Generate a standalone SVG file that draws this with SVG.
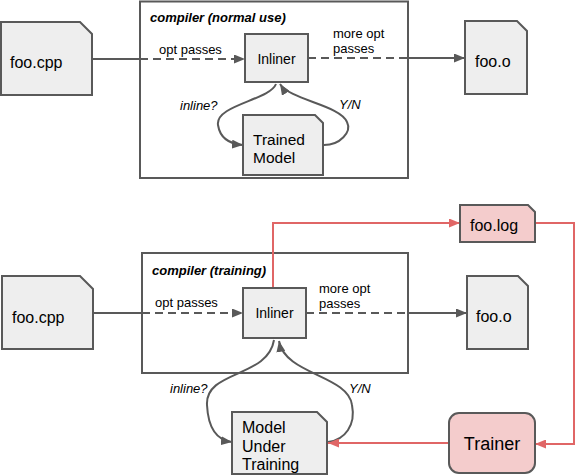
<svg xmlns="http://www.w3.org/2000/svg" width="576" height="476" viewBox="0 0 576 476">
<style>
text{font-family:"Liberation Sans",Arial,sans-serif;fill:#000}
.box{fill:#eeeeee;stroke:#595959;stroke-width:2}
.pink{fill:#f4cccc;stroke:#595959;stroke-width:2}
.frame{fill:none;stroke:#595959;stroke-width:2}
.c{fill:none;stroke:#595959;stroke-width:2}
.d{fill:none;stroke:#595959;stroke-width:2;stroke-dasharray:8,5}
.r{fill:none;stroke:#e06666;stroke-width:2}
.lbl{font-size:13px}
.it{font-size:13px;font-style:italic}
.title{font-size:13px;font-style:italic;font-weight:bold}
</style>
<defs>
<marker id="ag" markerWidth="11" markerHeight="9" refX="11" refY="4.5" orient="auto" markerUnits="userSpaceOnUse"><path d="M0,0 L11,4.5 L0,9 z" fill="#595959"/></marker>
<marker id="ar" markerWidth="11" markerHeight="9" refX="11" refY="4.5" orient="auto" markerUnits="userSpaceOnUse"><path d="M0,0 L11,4.5 L0,9 z" fill="#e06666"/></marker>
</defs>

<g id="compiler-normal">
<rect class="frame" x="140" y="1.5" width="268" height="176.5"/>
<text class="title" x="150" y="22">compiler (normal use)</text>
</g>
<g id="compiler-training">
<rect class="frame" x="142" y="253" width="266" height="120"/>
<text class="title" x="152" y="275">compiler (training)</text>
</g>

<g id="connectors">
<path class="c" d="M92,59 H140"/>
<path class="d" d="M140,59 H245" marker-end="url(#ag)"/>
<text class="lbl" x="159" y="54">opt passes</text>
<path class="d" d="M308,58 H408"/>
<path class="c" d="M408,58 H465" marker-end="url(#ag)"/>
<text class="lbl" x="333" y="38">more opt</text>
<text class="lbl" x="333" y="53">passes</text>
<path class="c" d="M276,84 C270,100 215,105 218,125 C220,138 230,144 243,145" marker-end="url(#ag)"/>
<text class="it" x="180" y="110">inline?</text>
<path class="c" d="M324,145 C340,145 352,132 347,122 C340,105 290,100 280,84" marker-end="url(#ag)"/>
<text class="it" x="339" y="109">Y/N</text>

<path class="c" d="M93,313 H142"/>
<path class="d" d="M142,313 H243" marker-end="url(#ag)"/>
<text class="lbl" x="155" y="307">opt passes</text>
<path class="d" d="M306,313 H408"/>
<path class="c" d="M408,313 H467" marker-end="url(#ag)"/>
<text class="lbl" x="319" y="293">more opt</text>
<text class="lbl" x="319" y="308">passes</text>
<path class="c" d="M274,340 C268,378 205,370 207,405 C208,425 215,440 232,442" marker-end="url(#ag)"/>
<text class="it" x="170" y="393">inline?</text>
<path class="c" d="M328,442 C345,440 356,425 352,405 C348,375 285,375 279,341" marker-end="url(#ag)"/>
<text class="it" x="349" y="393">Y/N</text>

<path class="r" d="M273,288 V223 H460" marker-end="url(#ar)"/>
<path class="r" d="M535,223 H574 V444 H535" marker-end="url(#ar)"/>
<path class="r" d="M449,443 H328" marker-end="url(#ar)"/>
</g>

<g id="foo-cpp-1">
<path class="box" d="M1,22 H80 L92,34 V95 H1 Z"/>
<text x="10" y="68" font-size="16">foo.cpp</text>
</g>
<g id="inliner-1">
<rect class="box" x="245" y="34" width="63" height="48"/>
<text x="276.5" y="64" font-size="14" text-anchor="middle">Inliner</text>
</g>
<g id="foo-o-1">
<path class="box" d="M465,21 H517 L527,31 V94 H465 Z"/>
<text x="475" y="67" font-size="16">foo.o</text>
</g>
<g id="trained-model">
<path class="box" d="M243,115 H315 L323,123 V175 H243 Z"/>
<text x="253" y="145" font-size="15.5">Trained</text>
<text x="253" y="163" font-size="15.5">Model</text>
</g>

<g id="foo-cpp-2">
<path class="box" d="M2,276 H80 L93,289 V349 H2 Z"/>
<text x="12" y="323" font-size="16">foo.cpp</text>
</g>
<g id="inliner-2">
<rect class="box" x="243" y="288" width="63" height="50"/>
<text x="274.5" y="318" font-size="14" text-anchor="middle">Inliner</text>
</g>
<g id="foo-o-2">
<path class="box" d="M467,276 H518 L528,286 V349 H467 Z"/>
<text x="476" y="322" font-size="16">foo.o</text>
</g>
<g id="foo-log">
<path class="pink" d="M460,205 H528 L535,212 V242 H460 Z"/>
<text x="470" y="231" font-size="16">foo.log</text>
</g>
<g id="trainer">
<rect class="pink" x="449" y="413" width="86" height="60" rx="10"/>
<text x="492" y="450" font-size="18" text-anchor="middle">Trainer</text>
</g>
<g id="model-under-training">
<path class="box" d="M232,412 H317 L327,422 V474 H232 Z"/>
<text x="242" y="433" font-size="16">Model</text>
<text x="242" y="452" font-size="16">Under</text>
<text x="242" y="470" font-size="16">Training</text>
</g>
</svg>
